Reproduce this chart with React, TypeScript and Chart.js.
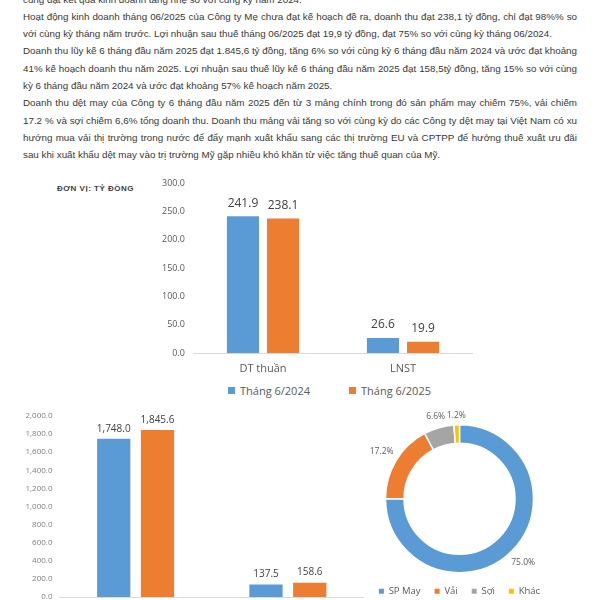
import React, { useEffect, useRef } from "react";
import { Chart, registerables } from "chart.js";

Chart.register(...registerables);
Chart.defaults.font.family = "'Open Sans', sans-serif";

const BLUE = "#5B9BD5";
const ORANGE = "#ED7D31";
const GREY = "#A5A5A5";
const YELLOW = "#FFC000";

// Monthly chart (June)
const monthCategories = ["DT thuần", "LNST"];
const monthSeries = ["Tháng 6/2024", "Tháng 6/2025"];
const month2024 = [241.9, 26.6];
const month2025 = [238.1, 19.9];

// 6-month cumulative chart
const ytdCategories = ["DT thuần", "LNST"];
const ytdSeries = ["6 tháng 2024", "6 tháng 2025"];
const ytd2024 = [1748.0, 137.5];
const ytd2025 = [1845.6, 158.6];

// Revenue mix
const mixLabels = ["SP May", "Vải", "Sợi", "Khác"];
const mixValues = [75.0, 17.2, 6.6, 1.2];
const mixColors = [BLUE, ORANGE, GREY, YELLOW];

const textLines: { t: string; full: boolean }[] = [
  { t: "cũng đạt kết quả kinh doanh tăng nhẹ so với cùng kỳ năm 2024.", full: false },
  { t: "Hoạt động kinh doanh tháng 06/2025 của Công ty Mẹ chưa đạt kế hoạch đề ra, doanh thu đạt 238,1 tỷ đồng, chỉ đạt 98%% so", full: true },
  { t: "với cùng kỳ tháng năm trước. Lợi nhuận sau thuế tháng 06/2025 đạt 19,9 tỷ đồng, đạt 75% so với cùng kỳ tháng 06/2024.", full: false },
  { t: "Doanh thu lũy kế 6 tháng đầu năm 2025 đạt 1.845,6 tỷ đồng, tăng 6% so với cùng kỳ 6 tháng đầu năm 2024 và ước đạt khoảng", full: true },
  { t: "41% kế hoạch doanh thu năm 2025. Lợi nhuận sau thuế lũy kế 6 tháng đầu năm 2025 đạt 158,5tỷ đồng, tăng 15% so với cùng", full: true },
  { t: "kỳ 6 tháng đầu năm 2024 và ước đạt khoảng 57% kế hoạch năm 2025.", full: false },
  { t: "Doanh thu dệt may của Công ty 6 tháng đầu năm 2025 đến từ 3 mảng chính trong đó sản phẩm may chiếm 75%, vải chiếm", full: true },
  { t: "17.2 % và sợi chiếm 6,6% tổng doanh thu. Doanh thu mảng vải tăng so với cùng kỳ do các Công ty dệt may tại Việt Nam có xu", full: true },
  { t: "hướng mua vải thị trường trong nước để đẩy mạnh xuất khẩu sang các thị trường EU và CPTPP để hưởng thuế xuất ưu đãi", full: true },
  { t: "sau khi xuất khẩu dệt may vào trị trường Mỹ gặp nhiều khó khăn từ việc tăng thuế quan của Mỹ.", full: false },
];

function barLabels(font: string, color: string, offset: number, fmt: (v: number) => string) {
  return {
    id: "barLabels",
    afterDatasetsDraw(chart: any) {
      const ctx = chart.ctx;
      ctx.save();
      ctx.font = font;
      ctx.fillStyle = color;
      ctx.textAlign = "center";
      ctx.textBaseline = "middle";
      chart.data.datasets.forEach((ds: any, i: number) => {
        chart.getDatasetMeta(i).data.forEach((el: any, j: number) => {
          ctx.fillText(fmt(ds.data[j]), el.x, el.y - offset);
        });
      });
      ctx.restore();
    },
  };
}

const doughnutLabels = {
  id: "doughnutLabels",
  afterDatasetsDraw(chart: any) {
    const ctx = chart.ctx;
    const ds = chart.data.datasets[0];
    ctx.save();
    ctx.font = "8.5px 'Open Sans'";
    ctx.fillStyle = "#595959";
    ctx.textAlign = "center";
    ctx.textBaseline = "middle";
    chart.getDatasetMeta(0).data.forEach((arc: any, i: number) => {
      const p = arc.getProps(["x", "y", "startAngle", "endAngle", "outerRadius"], true);
      const mid = (p.startAngle + p.endAngle) / 2;
      const text = Number(ds.data[i]).toFixed(1) + "%";
      const w = ctx.measureText(text).width;
      const r = p.outerRadius + 4 + Math.abs(Math.cos(mid)) * w / 2 + Math.abs(Math.sin(mid)) * 5;
      ctx.fillText(text, p.x + Math.cos(mid) * r, p.y + Math.sin(mid) * r);
    });
    ctx.restore();
  },
};

const fmt1 = (v: number) => Number(v).toFixed(1);
const fmtThousands = (v: number) =>
  Number(v).toLocaleString("en-US", { minimumFractionDigits: 1, maximumFractionDigits: 1 });

export default function App() {
  const monthRef = useRef<HTMLCanvasElement>(null);
  const ytdRef = useRef<HTMLCanvasElement>(null);
  const mixRef = useRef<HTMLCanvasElement>(null);

  useEffect(() => {
    const charts: Chart[] = [];

    charts.push(
      new Chart(monthRef.current!, {
        type: "bar",
        data: {
          labels: monthCategories,
          datasets: [
            { label: monthSeries[0], data: month2024, backgroundColor: BLUE, categoryPercentage: 0.573, barPercentage: 0.8 },
            { label: monthSeries[1], data: month2025, backgroundColor: ORANGE, categoryPercentage: 0.573, barPercentage: 0.8 },
          ],
        },
        options: {
          animation: false,
          responsive: false,
          maintainAspectRatio: false,
          layout: { padding: { top: 13, left: 0, right: 0, bottom: 0 } },
          plugins: { legend: { display: false }, tooltip: { enabled: false } },
          scales: {
            x: {
              grid: { display: false, drawTicks: false },
              border: { color: "#d9d9d9" },
              ticks: { color: "#595959", font: { size: 11 }, padding: 9 },
              afterFit: (s: any) => { s.height = 27; },
            },
            y: {
              min: 0,
              max: 300,
              grid: { display: false, drawTicks: false },
              border: { display: false },
              ticks: { stepSize: 50, color: "#595959", font: { size: 9 }, padding: 8, callback: (v: any) => fmt1(v) },
              afterFit: (s: any) => { s.width = 43; },
            },
          },
        } as any,
        plugins: [barLabels("12px 'Open Sans'", "#404040", 13, fmt1)],
      })
    );

    charts.push(
      new Chart(ytdRef.current!, {
        type: "bar",
        data: {
          labels: ytdCategories,
          datasets: [
            { label: ytdSeries[0], data: ytd2024, backgroundColor: BLUE, categoryPercentage: 0.575, barPercentage: 0.76 },
            { label: ytdSeries[1], data: ytd2025, backgroundColor: ORANGE, categoryPercentage: 0.575, barPercentage: 0.76 },
          ],
        },
        options: {
          animation: false,
          responsive: false,
          maintainAspectRatio: false,
          layout: { padding: { top: 16, left: 0, right: 0, bottom: 0 } },
          plugins: { legend: { display: false }, tooltip: { enabled: false } },
          scales: {
            x: {
              grid: { display: false, drawTicks: false },
              border: { color: "#d9d9d9" },
              ticks: { color: "#595959", font: { size: 10 }, padding: 8 },
              afterFit: (s: any) => { s.height = 33; },
            },
            y: {
              min: 0,
              max: 2000,
              grid: { display: false, drawTicks: false },
              border: { display: false },
              ticks: { stepSize: 200, color: "#7f7f7f", font: { size: 8 }, padding: 7, callback: (v: any) => fmtThousands(v) },
              afterFit: (s: any) => { s.width = 59.5; },
            },
          },
        } as any,
        plugins: [barLabels("10px 'Open Sans'", "#404040", 10, fmtThousands)],
      })
    );

    charts.push(
      new Chart(mixRef.current!, {
        type: "doughnut",
        data: {
          labels: mixLabels,
          datasets: [
            { data: mixValues, backgroundColor: mixColors, borderColor: "#ffffff", borderWidth: 1.5 },
          ],
        },
        options: {
          animation: false,
          responsive: false,
          maintainAspectRatio: false,
          radius: 74,
          cutout: "75%",
          layout: { padding: { top: 15, left: 0, right: 0, bottom: 0 } },
          plugins: {
            tooltip: { enabled: false },
            legend: {
              position: "bottom",
              labels: {
                boxWidth: 5,
                boxHeight: 5,
                padding: 14,
                color: "#595959",
                font: { size: 9.5 },
                generateLabels: (chart: any) => {
                  const items = (Chart as any).overrides.doughnut.plugins.legend.labels.generateLabels(chart);
                  return items.map((it: any) => ({ ...it, lineWidth: 0, strokeStyle: it.fillStyle }));
                },
              },
            },
          },
        } as any,
        plugins: [doughnutLabels],
      })
    );

    return () => charts.forEach((c) => c.destroy());
  }, []);

  return (
    <div
      style={{
        position: "absolute",
        left: 0,
        top: 0,
        width: 600,
        height: 600,
        overflow: "hidden",
        background: "#ffffff",
        fontFamily: "'Liberation Sans', Arial, sans-serif",
      }}
    >
      <div style={{ position: "absolute", left: 23, top: -9.45, width: 554 }}>
        {textLines.map((l, i) => (
          <div
            key={i}
            style={{
              height: 17.3,
              lineHeight: "17.3px",
              fontSize: 9.8,
              color: "#383838",
              textAlign: l.full ? "justify" : "left",
              textAlignLast: l.full ? "justify" : "left",
              overflow: "hidden",
            }}
          >
            {l.t}
          </div>
        ))}
      </div>

      <div
        style={{
          position: "absolute",
          left: 57,
          top: 184,
          fontSize: 8,
          lineHeight: "10px",
          fontWeight: "bold",
          letterSpacing: 0.5,
          color: "#404040",
        }}
      >
        ĐƠN VỊ: TỶ ĐỒNG
      </div>

      <canvas
        ref={monthRef}
        width={323}
        height={210}
        style={{ position: "absolute", left: 150, top: 170, width: 323, height: 210 }}
      />

      <div
        style={{
          position: "absolute",
          left: 228,
          top: 381,
          height: 18,
          display: "flex",
          alignItems: "center",
          fontFamily: "'Open Sans', sans-serif",
          fontSize: 11,
          color: "#595959",
          whiteSpace: "nowrap",
        }}
      >
        {monthSeries.map((s, i) => (
          <div key={s} style={{ display: "flex", alignItems: "center", marginRight: i === 0 ? 39 : 0 }}>
            <span style={{ width: 7, height: 7, background: i === 0 ? BLUE : ORANGE, marginRight: 5, display: "inline-block" }} />
            <span>{s}</span>
          </div>
        ))}
      </div>

      <canvas
        ref={ytdRef}
        width={364}
        height={230}
        style={{ position: "absolute", left: 0, top: 400, width: 364, height: 230 }}
      />

      <canvas
        ref={mixRef}
        width={229}
        height={196}
        style={{ position: "absolute", left: 345, top: 410, width: 229, height: 196 }}
      />
    </div>
  );
}
